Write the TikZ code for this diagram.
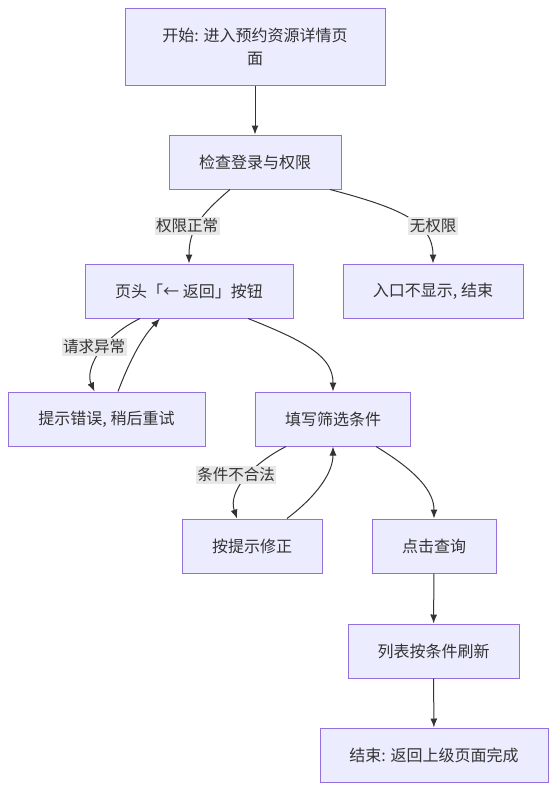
\documentclass[tikz,border=0pt]{standalone}
\usepackage{fontspec}
\setmainfont{Noto Sans CJK SC}
\usetikzlibrary{arrows.meta}
\definecolor{boxfill}{HTML}{ECECFF}
\definecolor{boxline}{HTML}{9370DB}
\definecolor{ink}{HTML}{333333}
\definecolor{lblbg}{HTML}{E8E8E8}
\begin{document}
\begin{tikzpicture}[x=1pt,y=-1pt,
  box/.style={draw=boxline,fill=boxfill,line width=1pt,text=ink,align=center,
    font=\fontsize{16}{23}\selectfont,inner sep=0pt},
  lbl/.style={fill=lblbg,text=ink,inner sep=1.5pt,font=\fontsize{15.5}{18}\selectfont},
  edge/.style={draw=ink,line width=1pt,-{Latex[length=9pt,width=7pt]}}]
\useasboundingbox (0,0) rectangle (556,790);
\node[box,minimum width=260pt,minimum height=77pt] (start) at (255,46.5) {开始: 进入预约资源详情页\\面};
\node[box,minimum width=172pt,minimum height=54pt] (check) at (255,162) {检查登录与权限};
\node[box,minimum width=208pt,minimum height=54pt] (header) at (189,291) {页头「← 返回」按钮};
\node[box,minimum width=180pt,minimum height=54pt] (noperm) at (433,291) {入口不显示, 结束};
\node[box,minimum width=197pt,minimum height=54pt] (err) at (106.5,419) {提示错误, 稍后重试};
\node[box,minimum width=155pt,minimum height=54pt] (fill) at (333,419) {填写筛选条件};
\node[box,minimum width=140pt,minimum height=54pt] (fix) at (252,546) {按提示修正};
\node[box,minimum width=124pt,minimum height=54pt] (query) at (434,546) {点击查询};
\node[box,minimum width=171pt,minimum height=54pt] (refresh) at (433.5,651) {列表按条件刷新};
\node[box,minimum width=228pt,minimum height=54pt] (end) at (434,755) {结束: 返回上级页面完成};

\draw[edge] (start) -- (check);
\draw[edge] ([xshift=-25pt]check.south) .. controls (200,215) and (189,230) .. (header.north);
\node[lbl] (l1) at (187,226) {权限正常};
\draw[edge] ([xshift=75pt]check.south) .. controls (400,208) and (433,222) .. (noperm.north);
\node[lbl] (l2) at (433,226) {无权限};
\draw[edge] ([xshift=-49pt]header.south) .. controls (100,338) and (85,370) .. ([xshift=-12pt]err.north);
\node[lbl] (l3) at (94,347) {请求异常};
\draw[edge] ([xshift=11.5pt]err.north) .. controls (128,365) and (140,340) .. ([xshift=-29pt]header.south);
\draw[edge] ([xshift=59pt]header.south) .. controls (310,343) and (333,358) .. (fill.north);
\draw[edge] ([xshift=-47pt]fill.south) .. controls (250,465) and (228,492) .. ([xshift=-15pt]fix.north);
\node[lbl] (l4) at (236,475) {条件不合法};
\draw[edge] ([xshift=35pt]fix.north) .. controls (318,495) and (333,472) .. (fill.south);
\draw[edge] ([xshift=43pt]fill.south) .. controls (418,472) and (434,492) .. (query.north);
\draw[edge] (query) -- (refresh);
\draw[edge] (refresh) -- (end);
\end{tikzpicture}
\end{document}
